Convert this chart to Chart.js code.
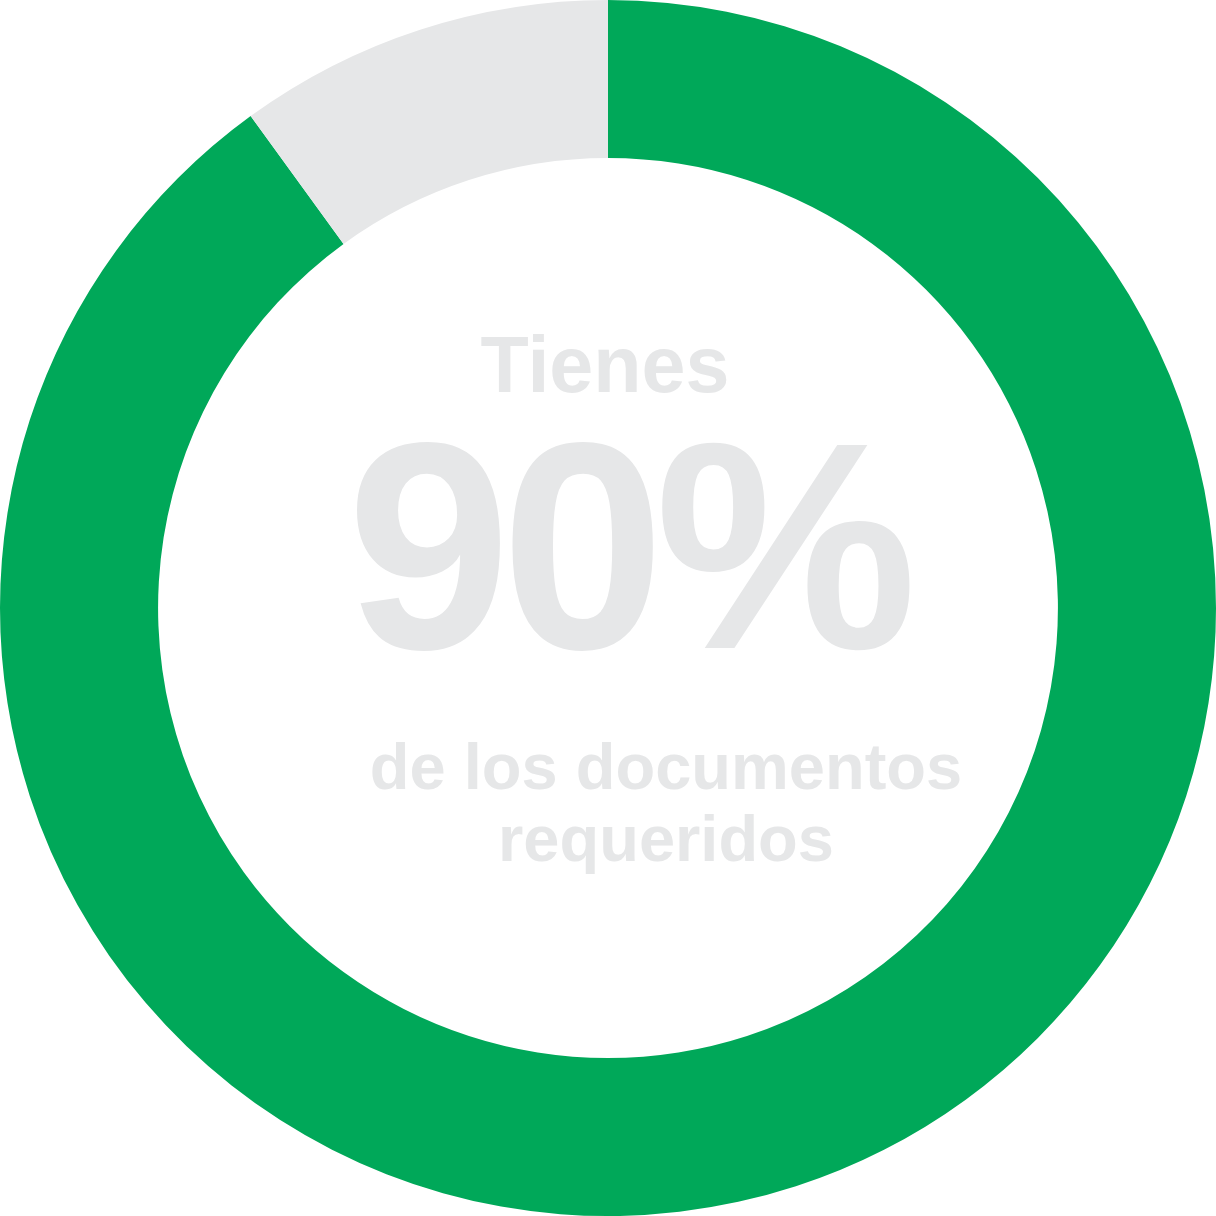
<!DOCTYPE html>
<html>
<head>
<meta charset="utf-8">
<script src="https://cdn.jsdelivr.net/npm/chart.js@4.4.0/dist/chart.umd.min.js"></script>
<style>
  html, body { margin: 0; padding: 0; background: #ffffff; }
  #wrap { position: relative; width: 1216px; height: 1216px; }
  #c { position: absolute; left: 0; top: 0; width: 1216px; height: 1216px; }
  .t { position: absolute; font-family: "Liberation Sans", Arial, sans-serif; font-weight: bold; color: #E6E7E8; white-space: nowrap; line-height: 1; transform: translateX(-50%); }
</style>
</head>
<body>
<div id="wrap">
  <canvas id="c" width="1216" height="1216"></canvas>
  <div class="t" id="t1" style="left:605px; top:325px; font-size:79px;">Tienes</div>
  <div class="t" id="t2" style="left:627px; top:399px; font-size:295px; letter-spacing:-10px;">90%</div>
  <div class="t" id="t3" style="left:666px; top:734px; font-size:65px;">de los documentos</div>
  <div class="t" id="t4" style="left:666px; top:806px; font-size:65px;">requeridos</div>
</div>
<script>
const categories = ["Tienes", "Faltantes"];
const values = [90, 10];
const colors = ["#00A859", "#E6E7E8"];

new Chart(document.getElementById('c'), {
  type: 'doughnut',
  data: {
    labels: categories,
    datasets: [{
      data: values,
      backgroundColor: colors,
      borderWidth: 0,
      hoverOffset: 0
    }]
  },
  options: {
    responsive: false,
    animation: false,
    devicePixelRatio: 1,
    cutout: '74%',
    rotation: 0,
    layout: { padding: 0 },
    plugins: {
      legend: { display: false },
      tooltip: { enabled: false }
    }
  }
});
</script>
</body>
</html>
